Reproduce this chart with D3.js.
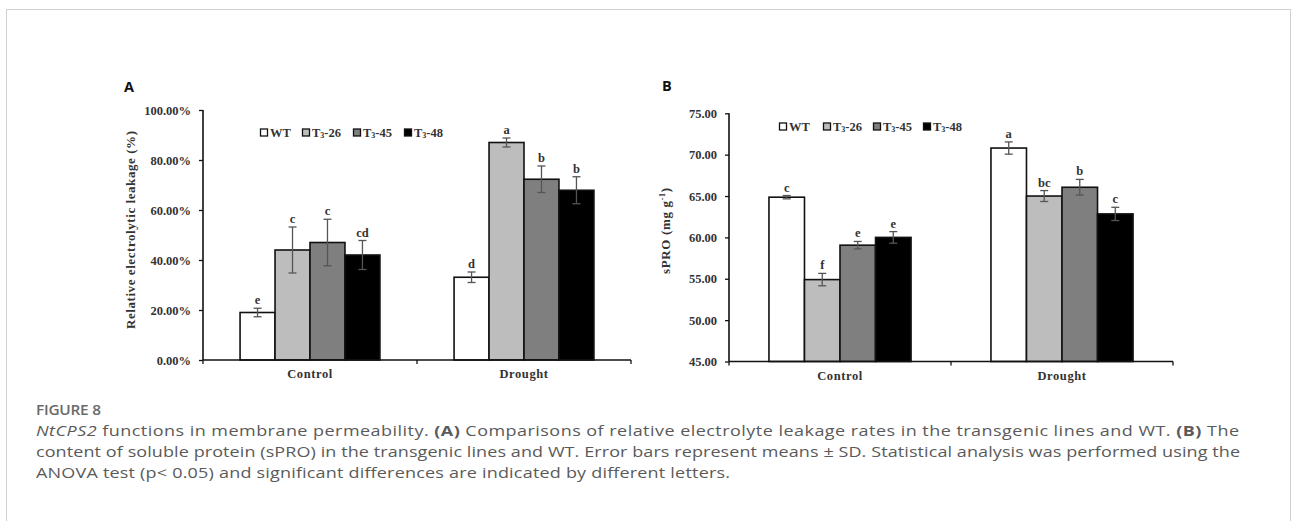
<!DOCTYPE html>
<html lang="en">
<head>
  <meta charset="UTF-8">
  <title>Figure 8</title>
  <style>
    body, html { margin: 0; padding: 0; background: #fff; }
    svg { display: block; }
    .serif { font-family: 'Liberation Serif', 'Times New Roman', serif; font-weight: bold; fill: #333; }
  </style>
</head>
<body>
  <svg id="svg" width="1292" height="521"></svg>

  <script src="https://d3js.org/d3.v7.min.js"></script>
  <script>
    // data
    const categories = ['Control', 'Drought']
    const series = ['WT', 'T3-26', 'T3-45', 'T3-48']
    const seriesColors = ['#ffffff', '#bdbdbd', '#7f7f7f', '#000000']

    // panel A: relative electrolytic leakage (fraction)
    const leakMean = [[0.19, 0.44, 0.47, 0.42], [0.331, 0.87, 0.723, 0.679]]
    const leakSd = [[0.017, 0.092, 0.093, 0.058], [0.021, 0.018, 0.053, 0.054]]
    const leakLetters = [['e', 'c', 'c', 'cd'], ['d', 'a', 'b', 'b']]
    const leakTicks = [0, 0.2, 0.4, 0.6, 0.8, 1.0]

    // panel B: soluble protein
    const proMean = [[64.86, 54.9, 59.06, 60.0], [70.8, 65.0, 66.06, 62.84]]
    const proSd = [[0.2, 0.75, 0.45, 0.7], [0.74, 0.66, 0.95, 0.8]]
    const proLetters = [['c', 'f', 'e', 'e'], ['a', 'bc', 'b', 'c']]
    const proTicks = [45, 50, 55, 60, 65, 70, 75]

    const captionLines = [
      'functions in membrane permeability. ',
      'content of soluble protein (sPRO) in the transgenic lines and WT. Error bars represent means \u00b1 SD. Statistical analysis was performed using the',
      'ANOVA test (p< 0.05) and significant differences are indicated by different letters.'
    ]

    const svg = d3.select('#svg')

    // outer frame
    svg.append('rect')
      .attr('x', 6.5).attr('y', 9.5)
      .attr('width', 1284).attr('height', 530)
      .attr('fill', 'none').attr('stroke', '#d0d0d0')

    // draw one panel
    const drawPanel = (opt) => {
      const g = svg.append('g')
      const x0 = d3.scaleBand().domain(categories).range([opt.left, opt.right])
      const bw = x0.bandwidth()
      const x1 = d3.scaleBand().domain(series).range([0, bw]).paddingOuter(opt.pad)
      const y = d3.scaleLinear().domain(opt.domain).range([opt.bottom, opt.top])

      // bars
      categories.forEach((c, ci) => {
        const grp = g.append('g').attr('transform', `translate(${x0(c)},0)`)
        const rows = series.map((s, si) => ({
          s, si, v: opt.mean[ci][si], sd: opt.sd[ci][si], lab: opt.letters[ci][si]
        }))
        grp.selectAll('rect')
          .data(rows)
          .join('rect')
          .attr('x', d => x1(d.s))
          .attr('y', d => y(d.v))
          .attr('width', x1.bandwidth())
          .attr('height', d => y(opt.domain[0]) - y(d.v))
          .attr('fill', d => seriesColors[d.si])
          .attr('stroke', '#111')
          .attr('stroke-width', 1.6)

        // error bars
        const eb = grp.selectAll('g.eb')
          .data(rows)
          .join('g')
          .attr('class', 'eb')
          .attr('transform', d => `translate(${x1(d.s) + x1.bandwidth() / 2},0)`)
        eb.append('line')
          .attr('y1', d => y(d.v - d.sd)).attr('y2', d => y(d.v + d.sd))
          .attr('stroke', '#555').attr('stroke-width', 1.3)
        eb.append('line')
          .attr('x1', -4).attr('x2', 4)
          .attr('y1', d => y(d.v + d.sd)).attr('y2', d => y(d.v + d.sd))
          .attr('stroke', '#555').attr('stroke-width', 1.3)
        eb.append('line')
          .attr('x1', -4).attr('x2', 4)
          .attr('y1', d => y(d.v - d.sd)).attr('y2', d => y(d.v - d.sd))
          .attr('stroke', '#555').attr('stroke-width', 1.3)
        eb.append('text')
          .attr('class', 'serif')
          .attr('y', d => y(d.v + d.sd) - 4)
          .attr('text-anchor', 'middle')
          .attr('font-size', 12.5)
          .text(d => d.lab)
      })

      // y axis
      const yAxis = d3.axisLeft(y).tickValues(opt.ticks).tickFormat(opt.fmt).tickSize(4).tickPadding(8)
      const ya = g.append('g').attr('transform', `translate(${opt.left},0)`).call(yAxis)
      ya.select('.domain').attr('stroke', '#111').attr('stroke-width', 1.6).attr('d', `M-0,${opt.top}V${opt.bottom}`)
      ya.selectAll('.tick line').attr('stroke', '#111').attr('stroke-width', 1.3)
      ya.selectAll('.tick text')
        .attr('class', 'serif')
        .attr('font-size', 12.5)
        .attr('fill', '#333')

      // x axis with ticks between categories
      g.append('line')
        .attr('x1', opt.left).attr('x2', opt.right)
        .attr('y1', opt.bottom).attr('y2', opt.bottom)
        .attr('stroke', '#111').attr('stroke-width', 1.6)
      const bounds = categories.map(c => x0(c)).concat([opt.right])
      g.selectAll('line.xt')
        .data(bounds)
        .join('line')
        .attr('class', 'xt')
        .attr('x1', d => d).attr('x2', d => d)
        .attr('y1', opt.bottom).attr('y2', opt.bottom + 4)
        .attr('stroke', '#111').attr('stroke-width', 1.3)
      g.selectAll('text.cat')
        .data(categories)
        .join('text')
        .attr('class', 'serif cat')
        .attr('x', d => x0(d) + bw / 2)
        .attr('y', opt.bottom + 18)
        .attr('text-anchor', 'middle')
        .attr('font-size', 12.5)
        .attr('letter-spacing', 0.6)
        .text(d => d)

      // y title
      const yt = g.append('text')
        .attr('class', 'serif')
        .attr('font-size', 13)
        .attr('text-anchor', 'middle')
        .attr('textLength', opt.titleLen)
        .attr('lengthAdjust', 'spacing')
        .attr('transform', `translate(${opt.titleX},${opt.titleY}) rotate(-90)`)
      opt.title(yt)

      // legend
      const leg = g.selectAll('g.leg')
        .data(series)
        .join('g')
        .attr('class', 'leg')
        .attr('transform', (d, i) => `translate(${opt.legendX[i]},${opt.legendY})`)
      leg.append('rect')
        .attr('x', 0.5).attr('y', -4)
        .attr('width', 7).attr('height', 7)
        .attr('fill', (d, i) => seriesColors[i])
        .attr('stroke', '#111').attr('stroke-width', 1.3)
      const lt = leg.append('text')
        .attr('class', 'serif')
        .attr('x', 10).attr('y', 4)
        .attr('font-size', 12.5)
      lt.each(function (d) {
        const t = d3.select(this)
        if (d === 'WT') { t.text('WT'); return }
        const parts = d.split('3')
        t.append('tspan').text(parts[0])
        t.append('tspan').attr('font-size', 8).attr('dy', 1).text('3')
        t.append('tspan').attr('dy', -1).text(parts[1])
      })

      // panel letter
      g.append('text')
        .attr('x', opt.letterX).attr('y', opt.letterY)
        .attr('font-family', "'Open Sans', 'Liberation Sans', sans-serif")
        .attr('font-weight', 'bold')
        .attr('font-size', 14.5)
        .attr('fill', '#111')
        .text(opt.letter)
    }

    drawPanel({
      left: 203, right: 631, top: 110, bottom: 360, pad: 1.06,
      domain: [0, 1], ticks: leakTicks, fmt: d3.format('.2%'),
      mean: leakMean, sd: leakSd, letters: leakLetters,
      titleX: 135, titleY: 230, titleLen: 198,
      title: t => t.text('Relative electrolytic leakage (%)'),
      legendX: [260, 302, 353, 404], legendY: 133,
      letter: 'A', letterX: 124, letterY: 92
    })

    drawPanel({
      left: 729, right: 1173, top: 113.3, bottom: 361.5, pad: 1.125,
      domain: [45, 75], ticks: proTicks, fmt: d3.format('.2f'),
      mean: proMean, sd: proSd, letters: proLetters,
      titleX: 670, titleY: 231, titleLen: 86,
      title: t => {
        t.append('tspan').text('sPRO (mg g')
        t.append('tspan').attr('font-size', 8).attr('dy', -5).text('-1')
        t.append('tspan').attr('dy', 5).text(')')
      },
      legendX: [779, 823, 873, 923], legendY: 127,
      letter: 'B', letterX: 662, letterY: 91
    })

    // caption: the original face is wider than Open Sans, so stretch it horizontally
    const sx = 1.2
    const cap = svg.append('g')
      .attr('font-family', "'Open Sans', sans-serif")
      .attr('fill', '#5a5a5a')
    const capLine = (y, len) => cap.append('text')
      .attr('transform', `translate(36,${y}) scale(${sx},1)`)
      .attr('font-size', 15)
      .attr('textLength', len / sx)
      .attr('lengthAdjust', 'spacing')
    cap.append('text')
      .attr('transform', `translate(36,415) scale(1.1,1)`)
      .attr('font-size', 14)
      .attr('font-weight', 600)
      .attr('fill', '#6a6a6a')
      .attr('textLength', 65 / 1.1)
      .attr('lengthAdjust', 'spacing')
      .text('FIGURE 8')
    const l1 = capLine(436, 1203)
    l1.append('tspan').attr('font-style', 'italic').text('NtCPS2')
    l1.append('tspan').text(' ' + captionLines[0])
    l1.append('tspan').attr('font-weight', 'bold').text('(A)')
    l1.append('tspan').text(' Comparisons of relative electrolyte leakage rates in the transgenic lines and WT. ')
    l1.append('tspan').attr('font-weight', 'bold').text('(B)')
    l1.append('tspan').text(' The')
    capLine(457, 1204).text(captionLines[1])
    capLine(478, 694).text(captionLines[2])
  </script>
</body>
</html>
